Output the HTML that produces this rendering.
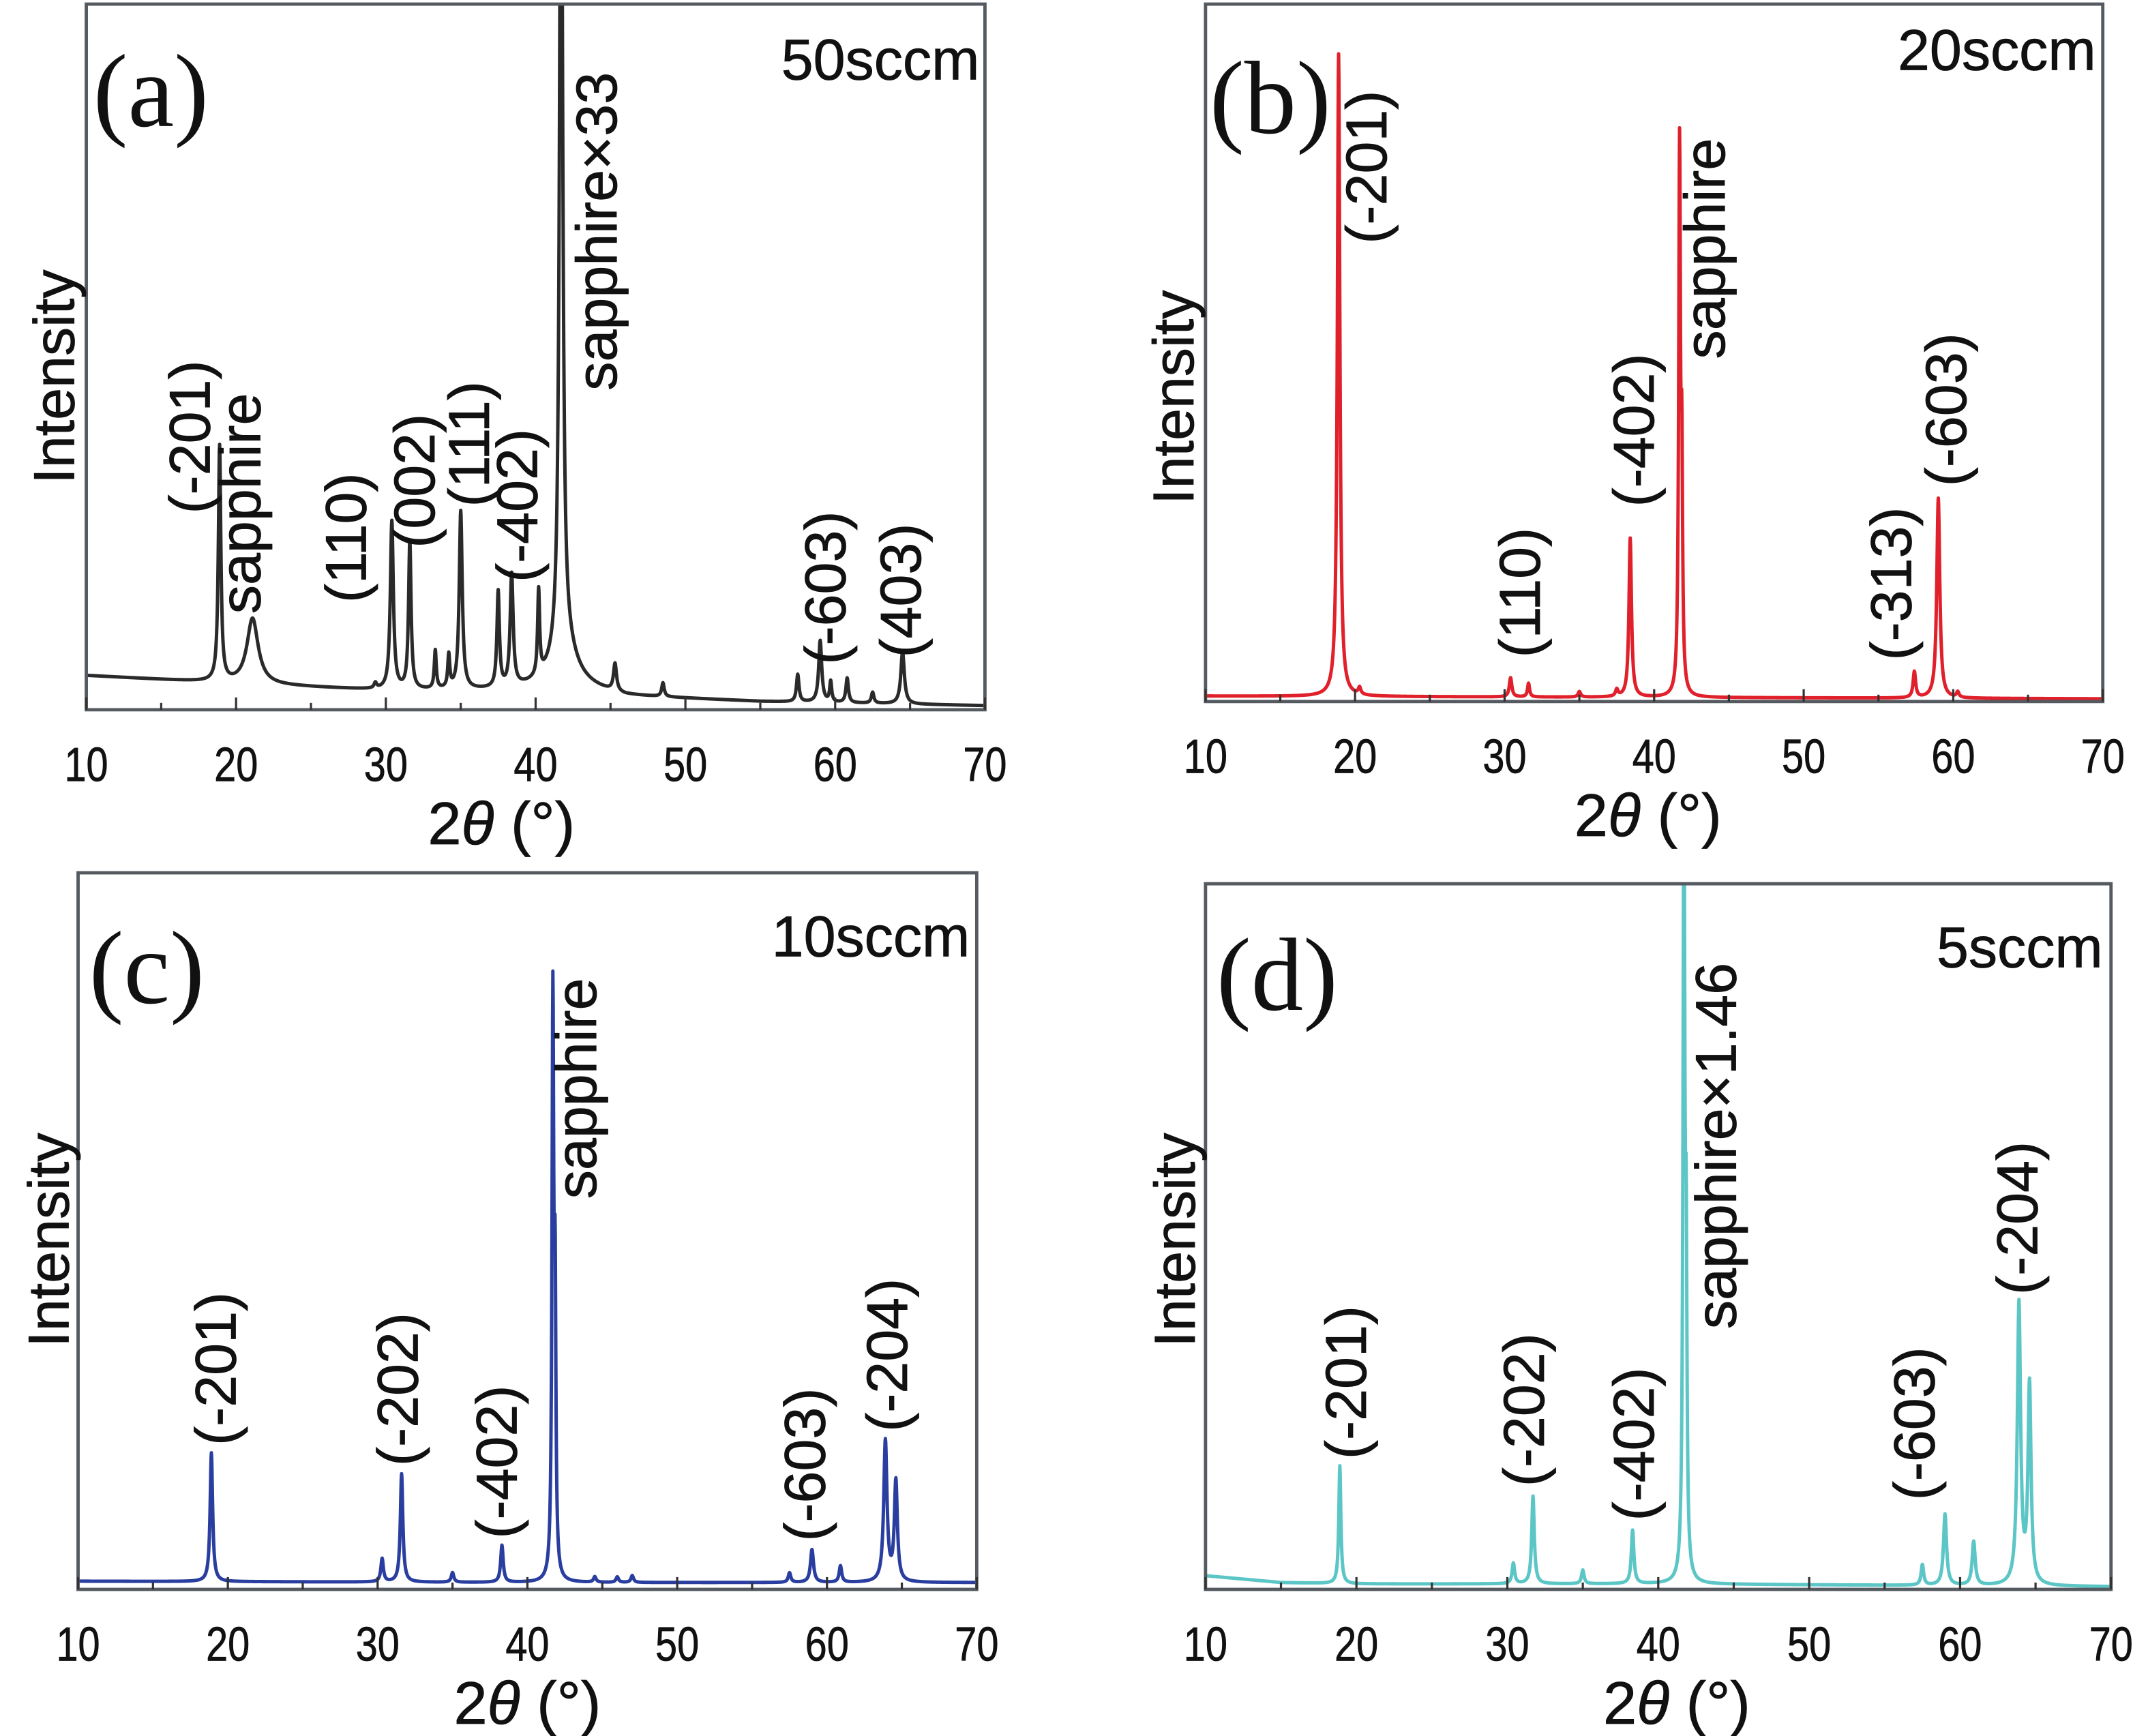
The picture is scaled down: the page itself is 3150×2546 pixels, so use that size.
<!DOCTYPE html>
<html><head><meta charset="utf-8">
<style>
html,body{margin:0;padding:0;background:#fff;}
svg{display:block;}
text{font-family:"Liberation Sans",sans-serif;}
</style></head>
<body>
<svg id="fig" width="3150" height="2546" viewBox="0 0 1568 1267" preserveAspectRatio="none" xmlns="http://www.w3.org/2000/svg">
<rect x="0" y="0" width="1568" height="1267" fill="#fff"/>
</svg>
<script>
// ---- data arrays (top level) ----
const xTicks = [10,20,30,40,50,60,70];
const xTickLabels = ["10","20","30","40","50","60","70"];

// panel a (50 sccm)
const aPeakPos    = [18.9,21.1,29.3,30.4,31.6,33.3,34.2,35.0,37.5,38.4,40.2,41.7,41.9,45.3,48.5,57.5,59.0,59.7,60.8,62.5,64.5];
const aPeakHeight = [172, 48,   4,  123, 108,  28,  24, 130,  70,  82,  62, 700,  30,  20,  10,  20,  45,  15,  18,   8,  38];
const aPeakWidth  = [0.1,0.45,0.1,0.12,0.1,0.08,0.08,0.12,0.1,0.12,0.08,0.12,0.9,0.12,0.1,0.1,0.12,0.08,0.1,0.1,0.14];
const aBaseX = [10,20,30,38,42,46,55,70];
const aBaseI = [25,19,14,14,18,10,6,3];

// panel b (20 sccm)
const bPeakPos    = [18.9,20.3,30.4,31.6,35.0,37.5,38.4,41.7,41.85,57.4,59.0,60.3];
const bPeakHeight = [469,  5,  14,  10,   4,   5, 116, 395, 150,  19, 146,  4];
const bPeakWidth  = [0.1,0.1,0.1,0.08,0.1,0.1,0.1,0.07,0.06,0.1,0.12,0.1];
const bBaseX = [10,40,70];
const bBaseI = [4,3,2];

// panel c (10 sccm)
const cPeakPos    = [18.9,30.3,31.6,35.0,38.3,41.7,41.85,44.5,46.0,47.0,57.5,59.0,60.9,63.9,64.6];
const cPeakHeight = [94,  17,  79,   7,  27, 420, 190,  4,   4,   5,   7,  24,  12, 103,  73];
const cPeakWidth  = [0.1,0.1,0.1,0.1,0.1,0.07,0.06,0.1,0.1,0.1,0.1,0.12,0.1,0.13,0.12];
const cBaseX = [10,40,70];
const cBaseI = [6,5,5];

// panel d (5 sccm)
const dPeakPos    = [18.9,30.4,31.7,35.0,38.3,41.7,41.85,57.5,59.0,60.9,63.9,64.6];
const dPeakHeight = [86,  15,  64,  10,  39, 600, 200,  15,  52,  32, 205, 145];
const dPeakWidth  = [0.08,0.1,0.1,0.1,0.1,0.07,0.06,0.1,0.12,0.12,0.13,0.12];
const dBaseX = [10,15,20,40,70];
const dBaseI = [10,5,4,4,2];

// ---- rendering ----
const NS = "http://www.w3.org/2000/svg";
const svg = document.getElementById('fig');
function mk(tag, attrs, parent){
  const e = document.createElementNS(NS, tag);
  for (const k in attrs) e.setAttribute(k, attrs[k]);
  (parent||svg).appendChild(e);
  return e;
}
function interp(xs, ys, x){
  if (x<=xs[0]) return ys[0];
  for (let i=1;i<xs.length;i++){ if (x<=xs[i]){ const t=(x-xs[i-1])/(xs[i]-xs[i-1]); return ys[i-1]+t*(ys[i]-ys[i-1]); } }
  return ys[ys.length-1];
}

const panels = [
 {id:'a', L:63, R:719, T:3, B:518, color:'#2a2a2a', pos:aPeakPos, h:aPeakHeight, w:aPeakWidth, bx:aBaseX, bi:aBaseI, titleX:366,
  letter:'(a)', letterX:68, letterY:92, cond:'50sccm', condX:715, condY:58, intY:275, intX:54,
  labels:[['(-201)',158,375],['sapphire',195,448],['(110)',272,440],['(002)',322,400],['(111)',362,370],['(-402)',397,425],['sapphire×33',455,285],['(-603)',622,485],['(403)',677,480]]},
 {id:'b', L:880, R:1535, T:3, B:512, color:'#e0202a', pos:bPeakPos, h:bPeakHeight, w:bPeakWidth, bx:bBaseX, bi:bBaseI, titleX:1203,
  letter:'(b)', letterX:883, letterY:97, cond:'20sccm', condX:1530, condY:51, intY:290, intX:871,
  labels:[['(-201)',1017,178],['sapphire',1264,262],['(-402)',1212,370],['(110)',1129,480],['(-313)',1400,482],['(-603)',1440,355]]},
 {id:'c', L:57, R:713, T:637, B:1160, color:'#2a3ea0', pos:cPeakPos, h:cPeakHeight, w:cPeakWidth, bx:cBaseX, bi:cBaseI, titleX:385,
  letter:'(c)', letterX:65, letterY:732, cond:'10sccm', condX:708, condY:698, intY:905, intX:50,
  labels:[['(-201)',177,1055],['(-202)',310,1070],['(-402)',382,1123],['sapphire',440,875],['(-603)',607,1125],['(-204)',667,1045]]},
 {id:'d', L:880, R:1541, T:645, B:1160, color:'#5cc6c6', pos:dPeakPos, h:dPeakHeight, w:dPeakWidth, bx:dBaseX, bi:dBaseI, titleX:1224,
  letter:'(d)', letterX:888, letterY:737, cond:'5sccm', condX:1535, condY:706, intY:905, intX:872,
  labels:[['(-201)',1002,1065],['(-202)',1132,1085],['(-402)',1212,1110],['sapphire×1.46',1272,970],['(-603)',1417,1095],['(-204)',1492,945]]}
];

panels.forEach(p=>{
  const g = mk('g', {});
  
  
  const xs = x => p.L + (x-10)/(60)*(p.R-p.L);
  const ys = I => p.B - I;

  const cp = mk('clipPath', {id:'clip-'+p.id}, g);
  mk('rect', {x:p.L, y:p.T, width:p.R-p.L, height:p.B-p.T}, cp);

  let d = '';
  for (let x=10; x<=70.0001; x+=0.02){
    let I = interp(p.bx, p.bi, x);
    for (let k=0;k<p.pos.length;k++){
      const dx = (x-p.pos[k])/p.w[k];
      I += p.h[k]/(1+dx*dx);
    }
    d += (d?'L':'M') + xs(x).toFixed(2) + ',' + ys(I).toFixed(2);
  }
  const curve = mk('path', {d:d, fill:'none', stroke:p.color, 'stroke-width':2.5, 'stroke-linejoin':'round', 'clip-path':'url(#clip-'+p.id+')'}, g);
  
  

  const fr = mk('rect', {x:p.L, y:p.T, width:p.R-p.L, height:p.B-p.T, fill:'none', stroke:'#555a60', 'stroke-width':2.4}, g);
  
  

  for (let t=10;t<=70;t+=5){
    const major = (t%10===0);
    const len = major?9:5;
    const tk = mk('line', {x1:xs(t), x2:xs(t), y1:p.B, y2:p.B-len, stroke:'#333', 'stroke-width':1.6}, g);
    
    
  }
  xTicks.forEach((t,i)=>{
    const tg = mk('g', {transform:'translate('+xs(t)+','+(p.B+52)+') scale(0.82,1)'}, g);
    const tl = mk('text', {x:0, y:0, 'text-anchor':'middle', 'font-size':35, fill:'#111', stroke:'#111', 'stroke-width':0.4}, tg);
    tl.textContent = xTickLabels[i];
    
    
  });

  const xt = mk('text', {x:p.titleX, y:p.B+98, 'text-anchor':'middle', 'font-size':44, fill:'#111', stroke:'#111', 'stroke-width':0.4}, g);
  
  
  const s1 = mk('tspan', {}, xt); s1.textContent = '2';
  const s2 = mk('tspan', {'font-style':'italic'}, xt); s2.textContent = 'θ';
  const s3 = mk('tspan', {}, xt); s3.textContent = ' (°)';

  const yt = mk('text', {transform:'translate('+p.intX+','+p.intY+') rotate(-90)', 'text-anchor':'middle', 'font-size':42, fill:'#111', stroke:'#111', 'stroke-width':0.4}, g);
  yt.textContent = 'Intensity';
  
  

  const lt = mk('text', {x:p.letterX, y:p.letterY, 'font-size':76, fill:'#111', style:'font-family:"Liberation Serif",serif'}, g);
  lt.textContent = p.letter;
  
  

  const ct = mk('text', {x:p.condX, y:p.condY, 'text-anchor':'end', 'font-size':42, fill:'#111', stroke:'#111', 'stroke-width':0.4}, g);
  ct.textContent = p.cond;
  
  

  p.labels.forEach(l=>{
    const pt = mk('text', {transform:'translate('+(l[1]-5)+','+l[2]+') rotate(-90)', 'font-size':42, fill:'#111', stroke:'#111', 'stroke-width':0.4}, g);
    pt.textContent = l[0];
    
    
  });
});
</script>
</body></html>
